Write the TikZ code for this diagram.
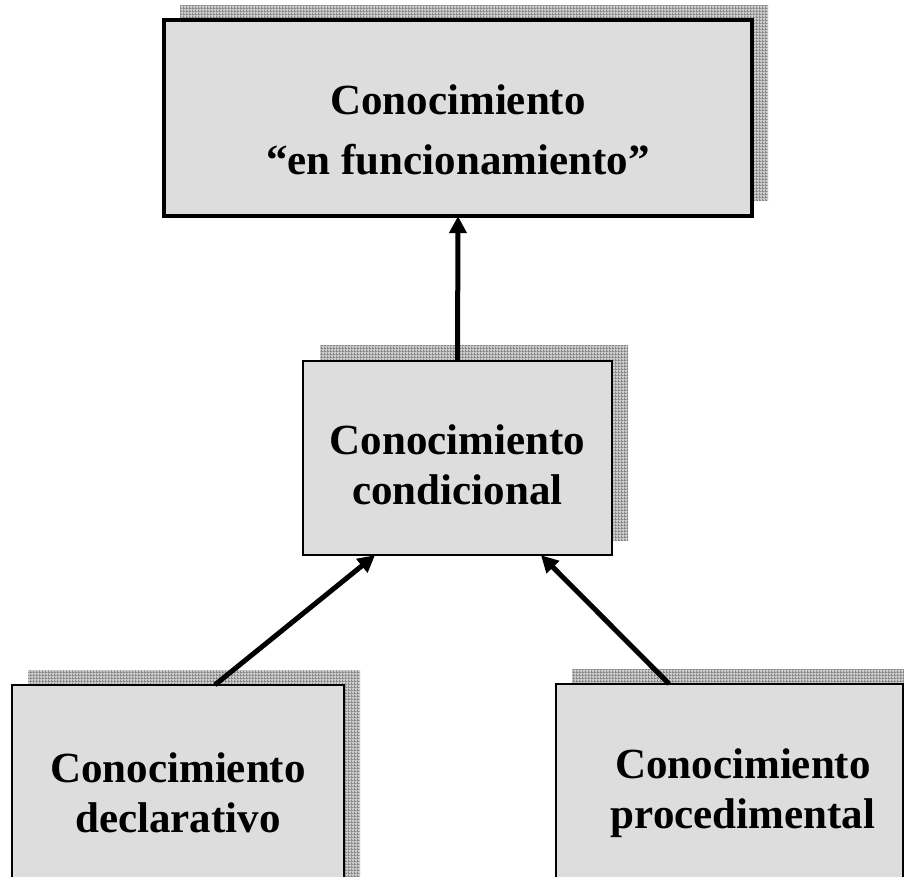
\documentclass[tikz,border=0pt]{standalone}
\usepackage{fontspec}
\setmainfont{Liberation Serif}
\usetikzlibrary{arrows.meta,patterns.meta}
\pgfdeclarepattern{name=finegrid, type=uncolored,
  bottom left={\pgfpoint{0pt}{0pt}}, top right={\pgfpoint{3pt}{3pt}},
  tile size={\pgfpoint{3pt}{3pt}},
  code={\pgfsetlinewidth{1pt}
    \pgfpathmoveto{\pgfpoint{0pt}{0.5pt}}\pgfpathlineto{\pgfpoint{3pt}{0.5pt}}
    \pgfpathmoveto{\pgfpoint{0.5pt}{0pt}}\pgfpathlineto{\pgfpoint{0.5pt}{3pt}}
    \pgfusepath{stroke}}}
\definecolor{boxfill}{RGB}{221,221,221}
\tikzset{
  shadowbox/.style={preaction={fill=gray!40}, pattern=finegrid, pattern color=gray!95},
  kbox/.style={draw=black, fill=boxfill},
  ktext/.style={font=\bfseries\fontsize{43}{50}\selectfont, align=center, inner sep=0pt},
  karrow/.style={line width=5pt, -{Triangle[length=17pt,width=17pt]}}
}
\begin{document}
\begin{tikzpicture}[x=1pt,y=-1pt]
\useasboundingbox (0,0) rectangle (904,876);
\clip (0,0) rectangle (904,876);
% shadows
\fill[shadowbox] (180,5) rectangle (768,200);
\fill[shadowbox] (320,345) rectangle (628,540);
\fill[shadowbox] (28,670) rectangle (360,900);
\fill[shadowbox] (572,669) rectangle (919,900);
% boxes
\draw[kbox, line width=3.5pt] (164,20) rectangle (752,216);
\node[minimum width=588pt, minimum height=196pt, inner sep=0pt] (top) at (458,118) {};
\draw[kbox, line width=2.5pt] (303,361) rectangle (612,555);
\node[minimum width=309pt, minimum height=194pt, inner sep=0pt] (mid) at (457.5,458) {};
\draw[kbox, line width=2pt] (12,685) rectangle (344,920);
\node[minimum width=332pt, minimum height=235pt, inner sep=0pt] (bl) at (178,802.5) {};
\draw[kbox, line width=2pt] (556,684) rectangle (903,920);
\node[minimum width=347pt, minimum height=236pt, inner sep=0pt] (br) at (729.5,802) {};
% texts
\node[ktext, font=\bfseries\fontsize{43}{60}\selectfont] (ttop) at (458,130) {Conocimiento\\“en funcionamiento”};
\node[ktext] (tmid) at (457.5,465) {Conocimiento\\condicional};
\node[ktext] (tbl) at (178,793) {Conocimiento\\declarativo};
\node[ktext] (tbr) at (743,793) {Conocimiento\\procedimental};
% arrows
\draw[karrow] (mid.north) -- (top.south);
\draw[karrow] ([xshift=37pt]bl.north) -- ([xshift=-82.5pt]mid.south);
\draw[karrow] ([xshift=-60.5pt]br.north) -- ([xshift=83.5pt]mid.south);
\end{tikzpicture}
\end{document}
